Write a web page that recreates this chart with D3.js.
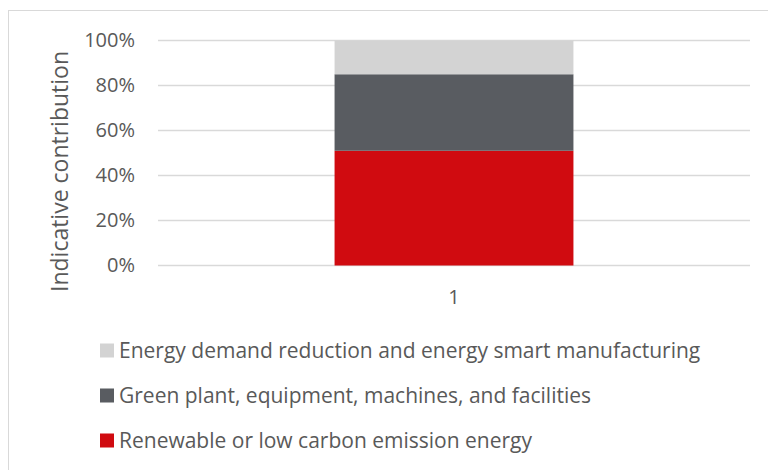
<!DOCTYPE html>
<html>
<head>
<meta charset="utf-8">
<script src="https://cdn.jsdelivr.net/npm/d3@7"></script>
<style>
  html, body { margin: 0; padding: 0; background: #fff; }
  svg { display: block; }
  text { font-family: "Open Sans", "Segoe UI", sans-serif; fill: #595959; }
</style>
</head>
<body>
<svg id="chart" width="768" height="470"></svg>
<script>
const categories = ["1"];
const seriesNames = [
  "Renewable or low carbon emission energy",
  "Green plant, equipment, machines, and facilities",
  "Energy demand reduction and energy smart manufacturing"
];
const seriesValues = [
  [0.51],
  [0.34],
  [0.15]
];
const seriesColors = ["#D00B10", "#595C61", "#D3D3D3"];
const yTicks = [0, 0.2, 0.4, 0.6, 0.8, 1.0];
const yTitle = "Indicative contribution";

const svg = d3.select("#chart");
const W = 768, H = 470;

// outer border
svg.append("rect")
  .attr("x", 8.5).attr("y", 10.5)
  .attr("width", W).attr("height", H)
  .attr("fill", "none").attr("stroke", "#D9D9D9").attr("stroke-width", 1);

const plot = { left: 158, right: 750, top: 40.5, bottom: 265.5 };

const x = d3.scaleBand().domain(categories)
  .range([plot.left, plot.right]).padding(0.425);
const y = d3.scaleLinear().domain([0, 1]).range([plot.bottom, plot.top]);

// gridlines
svg.append("g").selectAll("line").data(yTicks).join("line")
  .attr("x1", plot.left).attr("x2", plot.right)
  .attr("y1", d => y(d)).attr("y2", d => y(d))
  .attr("stroke", "#D9D9D9").attr("stroke-width", 1.3);

// y axis labels
const yAxis = d3.axisLeft(y).tickValues(yTicks)
  .tickFormat(d3.format(".0%")).tickSize(0).tickPadding(0);
const gy = svg.append("g").attr("transform", `translate(135,0)`).call(yAxis);
gy.select(".domain").remove();
gy.selectAll("text").style("font-size", "20px").attr("fill", "#595959")
  .style("font-family", '"Open Sans", sans-serif');

// stacked bars
const stackData = categories.map((c, i) => {
  const o = { cat: c };
  seriesNames.forEach((s, j) => o[s] = seriesValues[j][i]);
  return o;
});
const stacked = d3.stack().keys(seriesNames)(stackData);
svg.append("g").selectAll("g").data(stacked).join("g")
  .attr("fill", (d, i) => seriesColors[i])
  .selectAll("rect").data(d => d).join("rect")
  .attr("x", d => x(d.data.cat))
  .attr("width", x.bandwidth())
  .attr("y", d => y(d[1]))
  .attr("height", d => y(d[0]) - y(d[1]));

// x axis labels
const xAxis = d3.axisBottom(x).tickSize(0).tickPadding(0);
const gx = svg.append("g").attr("transform", `translate(0,${plot.bottom + 24})`).call(xAxis);
gx.select(".domain").remove();
gx.selectAll("text").style("font-size", "20px").attr("fill", "#595959")
  .style("font-family", '"Open Sans", sans-serif');

// y title
svg.append("text")
  .attr("transform", `translate(68,171.5) rotate(-90)`)
  .attr("text-anchor", "middle")
  .style("font-size", "23px")
  .text(yTitle);

// legend (reverse order, top = last series)
const legendOrder = [2, 1, 0];
const legendY = [350.5, 395.5, 440.5];
const lg = svg.append("g").selectAll("g").data(legendOrder).join("g")
  .attr("transform", (d, i) => `translate(100,${legendY[i]})`);
lg.append("rect").attr("x", 0).attr("y", -7).attr("width", 14).attr("height", 14)
  .attr("fill", d => seriesColors[d]);
lg.append("text").attr("x", 19).attr("y", 7.5)
  .style("font-size", "21px")
  .text(d => seriesNames[d]);
</script>
</body>
</html>
